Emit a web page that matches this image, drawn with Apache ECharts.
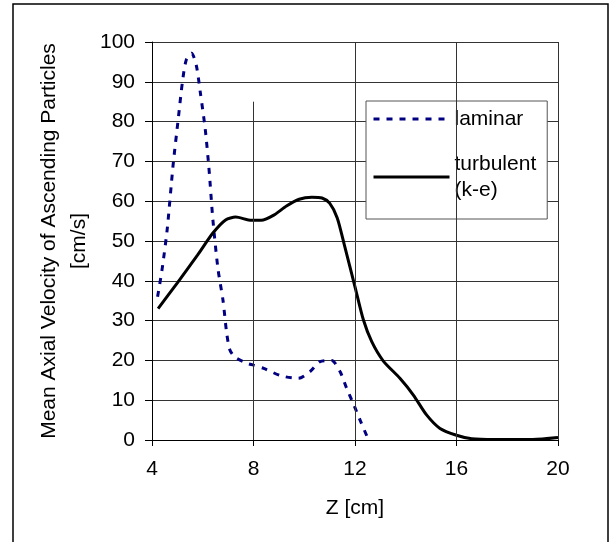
<!DOCTYPE html>
<html>
<head>
<meta charset="utf-8">
<script src="https://cdn.jsdelivr.net/npm/echarts@6.0.0/dist/echarts.min.js"></script>
<style>
  html, body { margin: 0; padding: 0; background: #fff; }
  #chart { width: 610px; height: 542px; }
</style>
</head>
<body>
<div id="chart"></div>
<script>
// laminar (dotted navy line)
const laminarZ = [4.22, 4.4, 4.6, 4.83, 5.04, 5.2, 5.35, 5.56, 5.75, 5.9, 6.1, 6.25, 6.4, 6.6, 6.8, 6.94, 7.07, 7.27,
  7.73, 8.0, 8.4, 9.1, 9.77, 10.23, 10.62, 11.08, 11.41, 11.67, 11.93, 12.2, 12.5]
const laminarV = [36, 43, 53, 69, 81, 90, 95.5, 97.2, 94, 87.5, 78, 67.8, 55.3, 43, 35, 27, 22.6, 20.8,
  19.3, 18.8, 18, 16.1, 15.5, 17.2, 19.7, 20, 17.2, 13, 9.2, 5, 0.5]

// turbulent (k-e) (solid black line)
const turbulentZ = [4.24, 5.0, 5.8, 6.4, 6.9, 7.3, 7.8, 8.3, 8.8, 9.3, 9.8, 10.3, 10.7, 11.0, 11.3, 11.6, 12.0,
  12.33, 12.66, 13.11, 13.77, 14.3, 14.82, 15.35, 16.0, 16.6, 17.5, 19, 20]
const turbulentV = [33, 39.5, 46.5, 52, 55.3, 56, 55.3, 55.2, 56.5, 58.8, 60.5, 61, 60.8, 59.5, 55.8, 48.5, 38.5,
  30.2, 24.7, 19.9, 15.5, 11.3, 6.3, 2.9, 1.2, 0.3, 0.1, 0.1, 0.6]

// vertical gridlines [z, top value]
const vGridZ = [8, 12, 16, 20]
const vGridTop = [85, 100, 100, 100]

const zip = (xs, ys) => xs.map((x, i) => [x, ys[i]])
const FONT = "'Liberation Sans', Arial, sans-serif"

const chart = echarts.init(document.getElementById('chart'))

chart.setOption({
  animation: false,
  backgroundColor: '#fff',
  textStyle: { fontFamily: FONT, color: '#000' },
  graphic: [{
    type: 'rect',
    shape: { x: 13, y: 4, width: 595, height: 560 },
    style: { fill: 'none', stroke: '#000', lineWidth: 1.5 },
    z: -10
  }],
  grid: {
    left: 152,
    right: 52,
    top: 42,
    bottom: 102,
    outerBoundsMode: 'none'
  },
  legend: {
    orient: 'vertical',
    left: 366,
    top: 101,
    padding: [5, 11, 3, 6],
    itemGap: 6,
    itemWidth: 76,
    itemHeight: 14,
    itemTextGap: 6,
    backgroundColor: '#fff',
    borderColor: '#555',
    borderWidth: 1,
    // hide the symbol in the middle of the legend line
    itemStyle: { opacity: 0 },
    lineStyle: { width: 3 },
    textStyle: { fontFamily: FONT, fontSize: 21, color: '#000', lineHeight: 26 },
    formatter: name => name === 'turbulent' ? 'turbulent\n(k-e)' : name,
    data: [
      { name: 'laminar' },
      { name: 'turbulent', textStyle: { padding: [26, 0, 0, 0] } }
    ]
  },
  xAxis: {
    type: 'value',
    min: 4,
    max: 20,
    interval: 4,
    name: 'Z [cm]',
    nameLocation: 'middle',
    nameGap: 58,
    nameMoveOverlap: false,
    nameTextStyle: { fontFamily: FONT, fontSize: 21, color: '#000' },
    axisLine: { onZero: false, lineStyle: { color: '#000', width: 1 } },
    axisTick: { show: true, inside: false, length: 6, lineStyle: { color: '#000' } },
    axisLabel: { fontFamily: FONT, fontSize: 21, color: '#000', margin: 19 },
    splitLine: { show: false }
  },
  yAxis: {
    type: 'value',
    min: 0,
    max: 100,
    interval: 10,
    name: 'Mean Axial Velocity of Ascending Particles\n[cm/s]',
    nameLocation: 'middle',
    nameGap: 58,
    nameMoveOverlap: false,
    nameTextStyle: { fontFamily: FONT, fontSize: 21, color: '#000', lineHeight: 30, align: 'center' },
    axisLine: { show: true, lineStyle: { color: '#000', width: 1 } },
    axisTick: { show: true, inside: false, length: 7, lineStyle: { color: '#000' } },
    axisLabel: { fontFamily: FONT, fontSize: 21, color: '#000', margin: 17 },
    splitLine: { show: true, lineStyle: { color: '#333', width: 1 } }
  },
  series: [
    {
      name: 'grid',
      type: 'line',
      data: [],
      silent: true,
      z: 1,
      markLine: {
        silent: true,
        symbol: ['none', 'none'],
        label: { show: false },
        lineStyle: { color: '#333', width: 1, type: 'solid' },
        emphasis: { disabled: true },
        data: vGridZ.map((z, i) => [{ coord: [z, 0] }, { coord: [z, vGridTop[i]] }])
      }
    },
    {
      name: 'laminar',
      type: 'line',
      data: zip(laminarZ, laminarV),
      symbol: 'none',
      smooth: 0.25,
      z: 3,
      lineStyle: { color: '#000080', width: 3, type: [6, 7] },
      itemStyle: { color: '#000080' }
    },
    {
      name: 'turbulent',
      type: 'line',
      data: zip(turbulentZ, turbulentV),
      symbol: 'none',
      smooth: 0.25,
      z: 3,
      lineStyle: { color: '#000', width: 3, type: 'solid' },
      itemStyle: { color: '#000' }
    }
  ]
})
</script>
</body>
</html>
